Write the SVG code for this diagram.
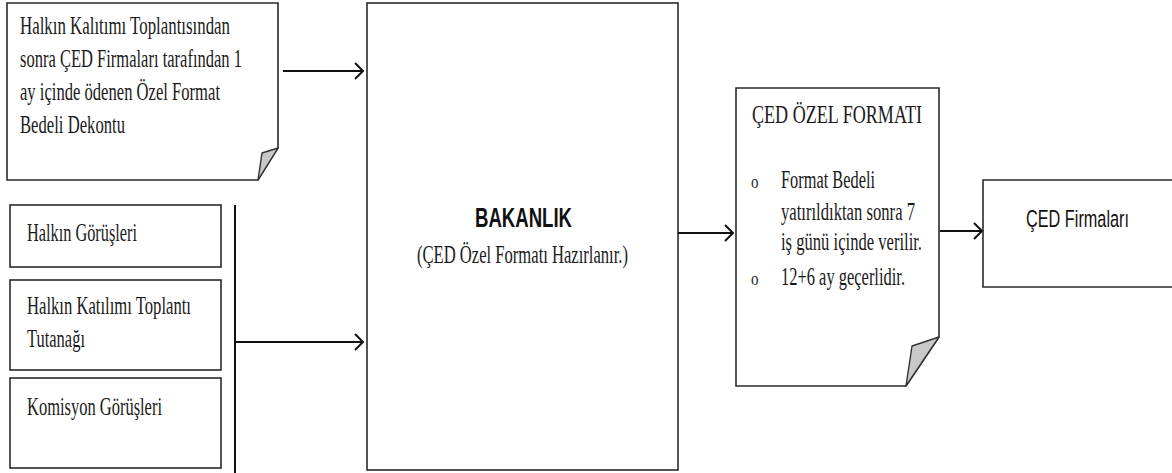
<svg xmlns="http://www.w3.org/2000/svg" width="1172" height="473" viewBox="0 0 1172 473">
<style>
.box{fill:#fff;stroke:#2a2a2a;stroke-width:1.6}
.fold{fill:#c8c8c8;stroke:#333;stroke-width:1.4;stroke-linejoin:round}
.ser{font-family:"Liberation Serif","Times New Roman",serif;font-size:20px;fill:#1a1a1a}
.bul{font-family:"Liberation Serif","Times New Roman",serif;font-size:15px;fill:#1a1a1a}
.sans{font-family:"Liberation Sans",Arial,sans-serif;fill:#111}
.conn{stroke:#111;stroke-width:2;fill:none}
</style>
<defs>
<marker id="chev" markerUnits="userSpaceOnUse" markerWidth="12" markerHeight="20" refX="10" refY="9" orient="auto">
<path d="M2,1 L10,9 L2,17" fill="none" stroke="#111" stroke-width="2"/>
</marker>
</defs>
<rect width="1172" height="473" fill="#fff"/>
<g id="dekont">
<path class="box" d="M7,3 H278 V148 L258,180 H7 Z"/>
<path class="fold" d="M278,148 L262,153 L258,180 Z"/>
<text class="ser" transform="translate(20,34) scale(1,1.3)" textLength="210" lengthAdjust="spacingAndGlyphs">Halkın Kalıtımı Toplantısından</text>
<text class="ser" transform="translate(20,67) scale(1,1.3)" textLength="222" lengthAdjust="spacingAndGlyphs">sonra ÇED Firmaları tarafından 1</text>
<text class="ser" transform="translate(20,100) scale(1,1.3)" textLength="200" lengthAdjust="spacingAndGlyphs">ay içinde ödenen Özel Format</text>
<text class="ser" transform="translate(20,133) scale(1,1.3)" textLength="105" lengthAdjust="spacingAndGlyphs">Bedeli Dekontu</text>
</g>
<g id="gorusler">
<rect class="box" x="10" y="205" width="211" height="62"/>
<text class="ser" transform="translate(27,241) scale(1,1.3)" textLength="110" lengthAdjust="spacingAndGlyphs">Halkın Görüşleri</text>
</g>
<g id="tutanak">
<rect class="box" x="10" y="280" width="211" height="90"/>
<text class="ser" transform="translate(27,314) scale(1,1.3)" textLength="164" lengthAdjust="spacingAndGlyphs">Halkın Katılımı Toplantı</text>
<text class="ser" transform="translate(27,347) scale(1,1.3)" textLength="58" lengthAdjust="spacingAndGlyphs">Tutanağı</text>
</g>
<g id="komisyon">
<rect class="box" x="10" y="378" width="211" height="90"/>
<text class="ser" transform="translate(27,415) scale(1,1.3)" textLength="135" lengthAdjust="spacingAndGlyphs">Komisyon Görüşleri</text>
</g>
<g id="bakanlik">
<rect class="box" x="367" y="3" width="311" height="467"/>
<text class="sans" transform="translate(475,227) scale(1,1.4)" font-size="20" font-weight="bold" textLength="97" lengthAdjust="spacingAndGlyphs">BAKANLIK</text>
<text class="ser" transform="translate(417,263) scale(1,1.3)" textLength="211" lengthAdjust="spacingAndGlyphs">(ÇED Özel Formatı Hazırlanır.)</text>
</g>
<g id="format">
<path class="box" d="M736,88 H939 V337 L906,386 H736 Z"/>
<path class="fold" d="M939,337 L912,346 L906,386 Z"/>
<text class="ser" transform="translate(752,123) scale(1,1.3)" textLength="170" lengthAdjust="spacingAndGlyphs">ÇED ÖZEL FORMATI</text>
<text class="bul" transform="translate(751,188) scale(1,1.3)">o</text>
<text class="ser" transform="translate(781,188) scale(1,1.3)" textLength="94" lengthAdjust="spacingAndGlyphs">Format Bedeli</text>
<text class="ser" transform="translate(781,220) scale(1,1.3)" textLength="134" lengthAdjust="spacingAndGlyphs">yatırıldıktan sonra 7</text>
<text class="ser" transform="translate(781,250) scale(1,1.3)" textLength="141" lengthAdjust="spacingAndGlyphs">iş günü içinde verilir.</text>
<text class="bul" transform="translate(751,285) scale(1,1.3)">o</text>
<text class="ser" transform="translate(781,285) scale(1,1.3)" textLength="124" lengthAdjust="spacingAndGlyphs">12+6 ay geçerlidir.</text>
</g>
<g id="firmalar">
<path class="box" d="M1180,180 H983 V287 H1180"/>
<text class="sans" transform="translate(1026,227) scale(1,1.35)" font-size="18" textLength="103" lengthAdjust="spacingAndGlyphs">ÇED Firmaları</text>
</g>
<g id="connectors">
<line class="conn" x1="283" y1="71" x2="363" y2="71" marker-end="url(#chev)"/>
<line class="conn" x1="235" y1="205" x2="235" y2="473" stroke-width="1.6"/>
<line class="conn" x1="235" y1="342" x2="363" y2="342" marker-end="url(#chev)"/>
<line class="conn" x1="678" y1="233" x2="733" y2="233" marker-end="url(#chev)"/>
<line class="conn" x1="940" y1="231" x2="982" y2="231" marker-end="url(#chev)"/>
</g>
</svg>
